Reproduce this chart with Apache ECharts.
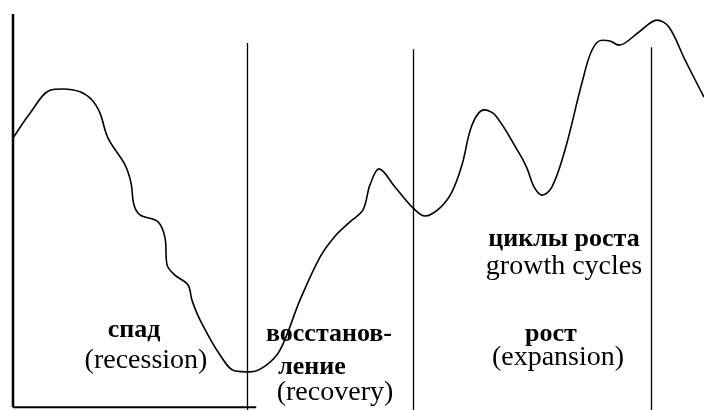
<!DOCTYPE html>
<html>
<head>
<meta charset="utf-8">
<script src="https://cdn.jsdelivr.net/npm/echarts@6/dist/echarts.min.js"></script>
<style>
  html, body { margin: 0; padding: 0; background: #fff; }
  #chart { width: 704px; height: 410px; }
</style>
</head>
<body>
<div id="chart"></div>
<script>
// время (0..100) и уровень активности (0..100)
const timeValues = [
  0, 2.46, 5.35, 7.24, 9.7, 11.43, 12.59, 13.75, 16.21, 17.08,
  17.51, 18.38, 20.98, 22.0, 22.29, 23.44, 25.33, 25.9, 27.06, 29.96,
  32.13, 34.3, 36.47, 38.64, 41.53, 44.43, 46.6, 48.77, 50.65, 51.66,
  52.97, 55.28, 57.89, 59.62, 61.79, 63.53, 64.98, 66.43, 68.16, 69.75,
  73.23, 74.38, 75.4, 76.56, 78.0, 79.88, 82.34, 83.79, 85.24, 86.4,
  87.7, 90.59, 93.2, 94.93, 97.25, 100
]
const levelValues = [
  66.3, 72.4, 78.0, 78.3, 77.6, 75.6, 72.4, 66.3, 59.8, 55.4,
  50.0, 47.6, 45.9, 42.0, 35.4, 32.9, 30.5, 26.8, 22.0, 13.4,
  9.5, 9.3, 10.7, 14.6, 26.8, 37.3, 42.4, 45.9, 48.8, 54.9,
  58.8, 54.4, 49.3, 47.3, 49.3, 53.2, 59.8, 69.5, 73.2, 72.0,
  62.7, 59.0, 54.4, 52.4, 54.4, 63.4, 79.8, 87.8, 90.2, 90.0,
  89.0, 92.2, 95.1, 93.4, 85.4, 76.3
]
// границы фаз
const phaseBorders = [33.86, 57.89, 92.33]
const phaseBorderTops = [89.5, 88.0, 88.5]
// подписи фаз
const phaseTexts = ['спад', '(recession)', 'восстанов-', 'ление', '(recovery)',
  'циклы роста', 'growth cycles', 'рост', '(expansion)']
const phaseBold = [true, false, true, true, false, true, false, true, false]

// положение подписей (пиксели, центр по x и по высоте строки)
const LABEL_POS = [
  [134, 330], [146, 361], [329, 334], [312, 367], [335, 393],
  [564, 239], [564, 267], [551, 334], [558, 358]
]

const chart = echarts.init(document.getElementById('chart'))

let lines = []
phaseBorders.forEach((t, i) => {
  lines.push([{ coord: [t, 0] }, { coord: [t, phaseBorderTops[i]] }])
})

const option = {
  animation: false,
  grid: { left: 13, right: 0, top: 0, bottom: 0 },
  xAxis: { type: 'value', min: 0, max: 100, show: false },
  yAxis: { type: 'value', min: 0, max: 100, show: false },
  series: [
    {
      type: 'line',
      data: timeValues.map((t, i) => [t, levelValues[i]]),
      smooth: 0.35,
      showSymbol: false,
      clip: false,
      lineStyle: { color: '#000', width: 1.6 },
      markLine: {
        silent: true,
        symbol: 'none',
        label: { show: false },
        lineStyle: { color: '#000', width: 1.3, type: 'solid' },
        data: lines
      }
    },
    {
      // нижняя граница
      type: 'line',
      data: [[0, 0.7], [35.2, 0.7]],
      showSymbol: false,
      clip: false,
      lineStyle: { color: '#000', width: 2 }
    },
    {
      // левая ось
      type: 'line',
      data: [[0, 0.7], [0, 96.6]],
      showSymbol: false,
      clip: false,
      lineStyle: { color: '#000', width: 2.5 }
    }
  ],
  graphic: phaseTexts.map((txt, i) => ({
    type: 'text',
    x: LABEL_POS[i][0],
    y: LABEL_POS[i][1],
    silent: true,
    style: {
      text: txt,
      fill: '#000',
      font: phaseBold[i] ? 'bold 26px "Liberation Serif"' : '28px "Liberation Serif"',
      textAlign: 'center',
      textVerticalAlign: 'middle'
    }
  }))
}

chart.setOption(option)
</script>
</body>
</html>
